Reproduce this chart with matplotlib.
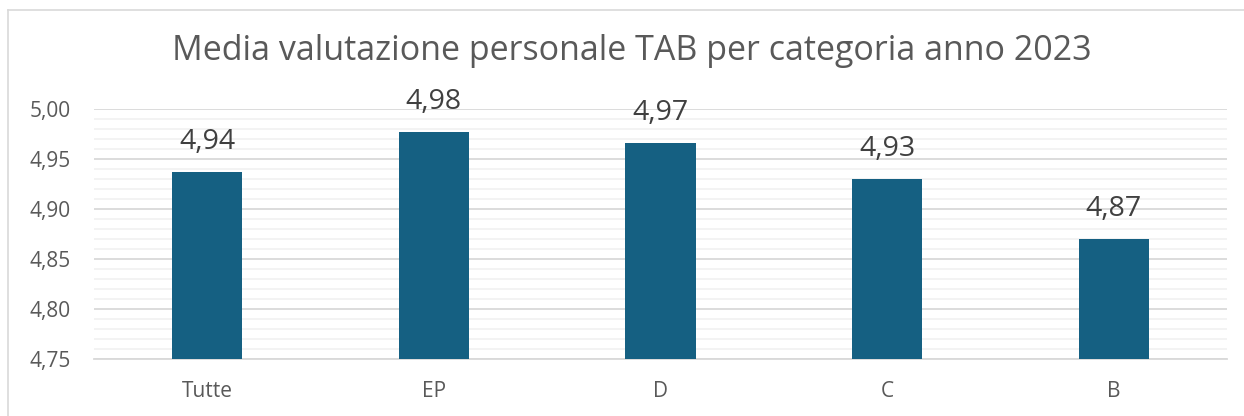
import matplotlib.pyplot as plt
from matplotlib.lines import Line2D
from matplotlib.ticker import MultipleLocator, FuncFormatter

plt.rcParams['font.family'] = ['Open Sans', 'DejaVu Sans']

# Data
categories = ['Tutte', 'EP', 'D', 'C', 'B']
values = [4.937, 4.977, 4.966, 4.930, 4.870]
labels = ['4,94', '4,98', '4,97', '4,93', '4,87']

text_col = '#595959'
bar_col = '#156082'

fig = plt.figure(figsize=(12.44, 4.16), dpi=100)
ax = fig.add_axes([94 / 1244, 1 - 359 / 416, (1227 - 94) / 1244, (359 - 109) / 416])

x = range(len(categories))
ax.bar(x, values, width=0.31, color=bar_col, zorder=3)
for xi, v, lab in zip(x, values, labels):
    ax.text(xi, v + 0.016, lab, ha='center', va='bottom', fontsize=20.5, color='#404040')

ax.set_xlim(-0.5, len(categories) - 0.5)
ax.set_ylim(4.75, 5.00)
ax.yaxis.set_major_locator(MultipleLocator(0.05))
ax.yaxis.set_minor_locator(MultipleLocator(0.01))
ax.yaxis.set_major_formatter(FuncFormatter(lambda v, p: f'{v:.2f}'.replace('.', ',')))
ax.grid(axis='y', which='major', color='#D9D9D9', linewidth=1.3, zorder=0)
ax.grid(axis='y', which='minor', color='#F2F2F2', linewidth=1.3, zorder=0)
ax.set_xticks(list(x))
ax.set_xticklabels(categories)
ax.tick_params(axis='both', which='both', length=0, labelcolor=text_col, labelsize=15)
ax.tick_params(axis='x', pad=16)
ax.tick_params(axis='y', pad=17)
for s in ['top', 'right', 'left']:
    ax.spines[s].set_visible(False)
ax.spines['bottom'].set_color('#D9D9D9')
ax.spines['bottom'].set_linewidth(1.3)

fig.text(632 / 1244, 1 - 51 / 416, 'Media valutazione personale TAB per categoria anno 2023',
         ha='center', va='center', fontsize=24.5, color=text_col)

# chart border
fig.add_artist(Line2D([8 / 1244, 1], [1 - 10 / 416, 1 - 10 / 416], color='#D9D9D9', linewidth=1.2))
fig.add_artist(Line2D([8 / 1244, 8 / 1244], [0, 1 - 10 / 416], color='#D9D9D9', linewidth=1.2))

fig.savefig('out.png', dpi=100)
